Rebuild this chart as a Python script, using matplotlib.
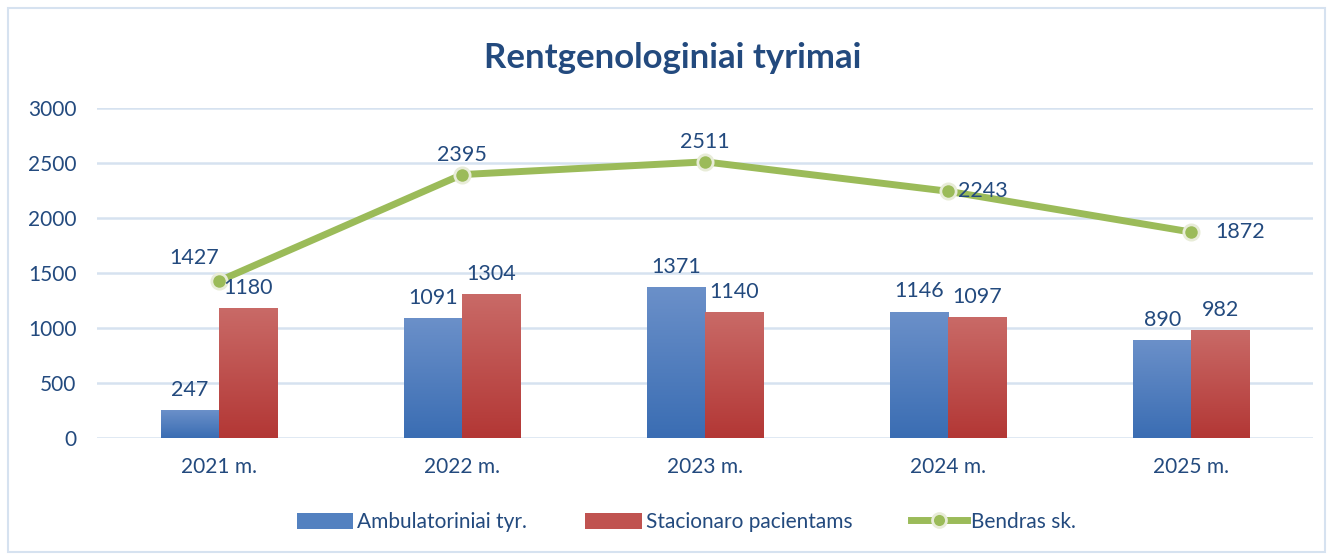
import matplotlib.pyplot as plt
import numpy as np
from matplotlib.colors import LinearSegmentedColormap
from matplotlib.patches import Patch, Rectangle
from matplotlib.lines import Line2D

plt.rcParams['font.family'] = ['Lato', 'DejaVu Sans']

years = ["2021 m.", "2022 m.", "2023 m.", "2024 m.", "2025 m."]
ambulatoriniai = [247, 1091, 1371, 1146, 890]
stacionaro = [1180, 1304, 1140, 1097, 982]
bendras = [1427, 2395, 2511, 2243, 1872]

txt = "#234A7E"
blue_cm = LinearSegmentedColormap.from_list("b", ["#3A6DB3", "#6B90C9"])
red_cm = LinearSegmentedColormap.from_list("r", ["#B33735", "#C96A67"])
green = "#9BBB59"
halo = "#E8ECD8"

fig = plt.figure(figsize=(13.33, 5.6), dpi=100)
fig.patches.append(Rectangle((8 / 1333, 8 / 560), 1 - 16 / 1333, 1 - 16 / 560,
                             transform=fig.transFigure, fill=False,
                             edgecolor="#D6E2F0", linewidth=1.5))
ax = fig.add_axes([0.073, 0.218, 0.912, 0.589])

x = np.arange(len(years))
w = 0.24
grad = np.linspace(0, 1, 256).reshape(-1, 1)

def gradient_bars(xs, vals, cmap):
    for xi, v in zip(xs, vals):
        ax.imshow(grad, extent=[xi - w / 2, xi + w / 2, 0, v], origin="lower",
                  aspect="auto", cmap=cmap, zorder=2)

gradient_bars(x - w / 2, ambulatoriniai, blue_cm)
gradient_bars(x + w / 2, stacionaro, red_cm)

ax.plot(x, bendras, color=green, linewidth=5, marker="o", markersize=11,
        markerfacecolor=green, markeredgecolor=halo, markeredgewidth=2,
        zorder=4, solid_capstyle="round")

fs = 15.5
for xi, v in zip(x - w / 2, ambulatoriniai):
    ax.text(xi, v + 95, str(v), ha="center", va="bottom", fontsize=fs, color=txt, zorder=5)
for xi, v in zip(x + w / 2, stacionaro):
    ax.text(xi, v + 95, str(v), ha="center", va="bottom", fontsize=fs, color=txt, zorder=5)

line_offsets = [(-0.1, 120, "center"), (0, 90, "center"), (0.0, 90, "center"),
                (0.04, 0, "left"), (0.1, 0, "left")]
for xi, v, (dx, dy, ha) in zip(x, bendras, line_offsets):
    ax.text(xi + dx, v + dy, str(v), ha=ha, va="bottom" if dy else "center",
            fontsize=fs, color=txt, zorder=5)

ax.set_xlim(-0.5, len(years) - 0.5)
ax.set_ylim(0, 3000)
ax.set_yticks(np.arange(0, 3001, 500))
ax.set_xticks(x)
ax.set_xticklabels(years)
ax.tick_params(axis="both", length=0, labelsize=15, colors=txt)
ax.tick_params(axis="y", pad=15)
ax.tick_params(axis="x", pad=14)
ax.grid(axis="y", color="#D6E2F0", linewidth=1.8, zorder=0)
ax.set_axisbelow(True)
for s in ax.spines.values():
    s.set_visible(False)

fig.suptitle("Rentgenologiniai tyrimai", x=0.505, y=0.925, fontsize=25,
             fontweight="bold", color=txt)

handles = [Patch(facecolor="#5381C0"), Patch(facecolor="#C05350"),
           Line2D([0], [0], color=green, linewidth=5, marker="o", markersize=10,
                  markerfacecolor=green, markeredgecolor=halo, markeredgewidth=2)]
labels = ["Ambulatoriniai tyr.", "Stacionaro pacientams", "Bendras sk."]
fig.legend(handles, labels, loc="center", bbox_to_anchor=(0.515, 0.068), ncol=3,
           frameon=False, fontsize=15, labelcolor=txt, handlelength=2.7,
           handleheight=0.8, handletextpad=0.2, columnspacing=2.8)

fig.savefig("out.png", dpi=100)
